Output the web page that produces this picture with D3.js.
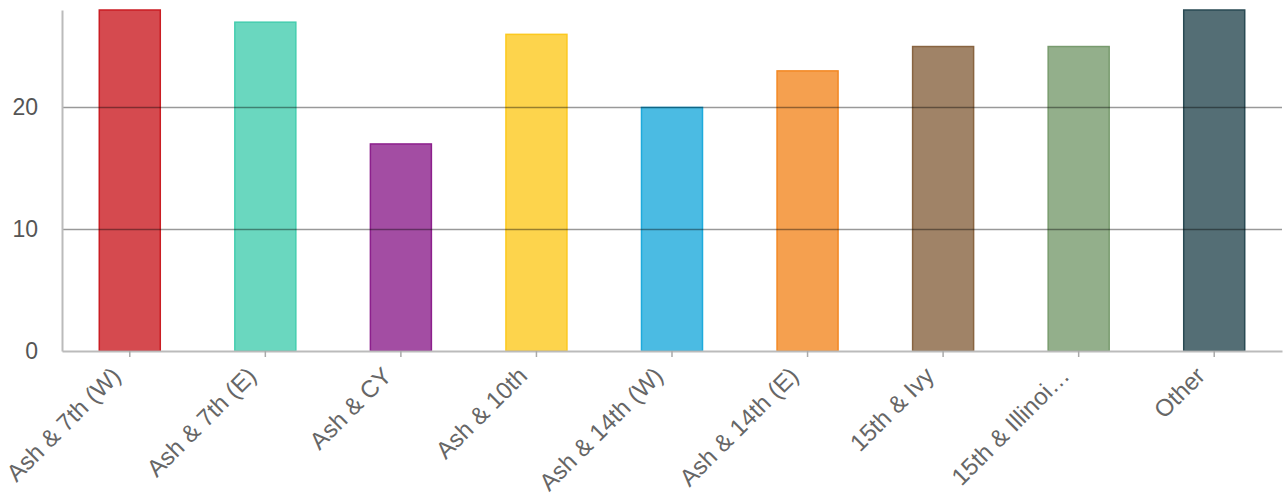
<!DOCTYPE html>
<html>
<head>
<meta charset="utf-8">
<script src="https://cdnjs.cloudflare.com/ajax/libs/d3/7.8.5/d3.min.js"></script>
<style>
  body { margin: 0; background: #fff; }
  svg { display: block; font-family: "Liberation Sans", Arial, sans-serif; }
</style>
</head>
<body>
<svg id="chart" width="1287" height="497"></svg>
<script>
const categories = ["Ash & 7th (W)", "Ash & 7th (E)", "Ash & CY", "Ash & 10th", "Ash & 14th (W)", "Ash & 14th (E)", "15th & Ivy", "15th & Illinoi\u2026", "Other"];
const values = [28, 27, 17, 26, 20, 23, 25, 25, 28];
const colors = ["#ca1d23", "#45cdaf", "#8c208c", "#fcc91f", "#1eaadc", "#f38823", "#886441", "#789b6e", "#294a53"];
const yTicks = [0, 10, 20];

var svg = d3.select("#chart"),
  margin = { top: 10, right: 5, bottom: 146, left: 62 },
  width = +svg.attr("width") - margin.left - margin.right,
  height = +svg.attr("height") - margin.top - margin.bottom;

var g = svg.append("g")
  .attr("transform", "translate(" + margin.left + "," + margin.top + ")");

var x = d3.scaleBand().domain(categories).range([0, width]).paddingInner(0.55).paddingOuter(0.275);
var y = d3.scaleLinear().domain([0, 28]).range([height, 0]);

// bars
g.selectAll("rect.bar")
  .data(values)
  .enter()
  .append("rect")
  .attr("class", "bar")
  .attr("x", (d, i) => x(categories[i]))
  .attr("y", d => y(d))
  .attr("width", x.bandwidth())
  .attr("height", d => height - y(d))
  .attr("fill", (d, i) => colors[i])
  .attr("fill-opacity", 0.8)
  .attr("stroke", (d, i) => colors[i])
  .attr("stroke-width", 1.5);

// gridlines on top
g.selectAll("line.grid")
  .data(yTicks.filter(t => t > 0))
  .enter()
  .append("line")
  .attr("class", "grid")
  .attr("x1", 0)
  .attr("x2", width)
  .attr("y1", d => Math.round(y(d)) + 0.5)
  .attr("y2", d => Math.round(y(d)) + 0.5)
  .attr("stroke", "#000")
  .attr("stroke-opacity", 0.4)
  .attr("stroke-width", 1.3);

// y axis
var yAxis = g.append("g")
  .call(d3.axisLeft(y).tickValues(yTicks).tickSize(0).tickPadding(24));
yAxis.select(".domain").attr("stroke", "#bbb").attr("stroke-width", 2);
yAxis.selectAll("text")
  .attr("fill", "#555")
  .style("font-size", "23px");

// x axis
var xAxis = g.append("g")
  .attr("transform", "translate(0," + height + ")")
  .call(d3.axisBottom(x).tickSizeInner(6).tickSizeOuter(0));
xAxis.select(".domain").attr("stroke", "#bbb").attr("stroke-width", 2);
xAxis.selectAll(".tick line").attr("stroke", "#aaa").attr("stroke-width", 1.5);
xAxis.selectAll("text")
  .attr("fill", "#666")
  .style("font-size", "24px")
  .attr("text-anchor", "end")
  .attr("dy", "0.35em")
  .attr("transform", "translate(-20,14) rotate(-45)");
</script>
</body>
</html>
